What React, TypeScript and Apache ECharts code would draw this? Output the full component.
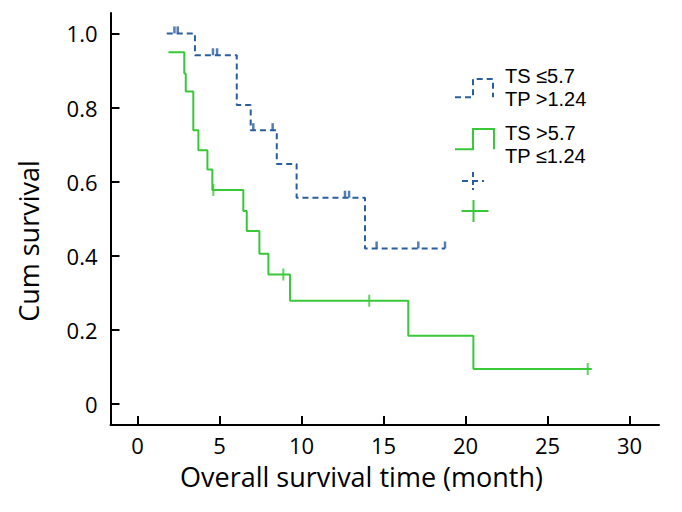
import React, { useEffect, useRef } from "react";
import * as echarts from "echarts";

const FONT = "Open Sans";
const LEGEND_FONT = "Liberation Sans";
const BLUE = "#2d5e9c";
const GREEN = "#38c838";

const xTicks = [0, 5, 10, 15, 20, 25, 30];
const yTicks = [0, 0.2, 0.4, 0.6, 0.8, 1.0];
const xTitle = "Overall survival time (month)";
const yTitle = "Cum survival";
const groupALabel = ["TS \u22645.7", "TP >1.24"];
const groupBLabel = ["TS >5.7", "TP \u22641.24"];

// Kaplan-Meier steps: [time (month), cumulative survival]
const groupASteps: [number, number][] = [
  [1.78, 1.0],
  [3.5, 0.941],
  [6.05, 0.807],
  [6.9, 0.739],
  [8.49, 0.648],
  [9.7, 0.557],
  [13.87, 0.42],
  [18.75, 0.42],
];
const groupACensored: [number, number][] = [
  [2.25, 1.0],
  [2.45, 1.0],
  [4.6, 0.941],
  [4.85, 0.941],
  [7.06, 0.739],
  [8.24, 0.739],
  [12.65, 0.557],
  [12.9, 0.557],
  [14.58, 0.42],
  [17.12, 0.42],
  [18.75, 0.42],
];

const groupBSteps: [number, number][] = [
  [1.88, 0.949],
  [2.85, 0.892],
  [2.94, 0.843],
  [3.4, 0.739],
  [3.71, 0.685],
  [4.26, 0.633],
  [4.56, 0.578],
  [6.45, 0.521],
  [6.66, 0.467],
  [7.43, 0.406],
  [7.98, 0.35],
  [9.3, 0.279],
  [16.51, 0.185],
  [20.48, 0.095],
  [27.7, 0.095],
];
const groupBCensored: [number, number][] = [
  [4.62, 0.578],
  [8.89, 0.35],
  [14.13, 0.279],
  [27.45, 0.095],
];

export default function App() {
  const ref = useRef<HTMLDivElement>(null);
  useEffect(() => {
    if (!ref.current) return;
    const chart = echarts.init(ref.current, null, { renderer: "svg" });
    const axisLineStyle = { color: "#000", width: 2 };
    const labelBase = { color: "#000", fontFamily: FONT, fontSize: 22 };
    const legendText = (text: string, x: number, y: number) => ({
      type: "text",
      x,
      y,
      style: {
        text,
        fill: "#000",
        font: `20px "${LEGEND_FONT}"`,
        textAlign: "left",
        textVerticalAlign: "middle",
      },
    });
    chart.setOption({
      animation: false,
      backgroundColor: "#fff",
      grid: { left: 110.5, right: 23, top: 13, bottom: 87, containLabel: false },
      xAxis: {
        type: "value",
        min: -1.65,
        max: 31.8,
        axisLine: { show: true, onZero: false, lineStyle: axisLineStyle },
        axisTick: { show: true, inside: true, length: 9, customValues: xTicks, lineStyle: axisLineStyle },
        axisLabel: { ...labelBase, customValues: xTicks, margin: 9 },
        splitLine: { show: false },
      },
      yAxis: {
        type: "value",
        min: -0.056,
        max: 1.055,
        axisLine: { show: true, onZero: false, lineStyle: axisLineStyle },
        axisTick: { show: true, inside: true, length: 9, customValues: yTicks, lineStyle: axisLineStyle },
        axisLabel: {
          ...labelBase,
          customValues: yTicks,
          margin: 13,
          formatter: (v: number) => (v === 0 ? "0" : v.toFixed(1)),
        },
        splitLine: { show: false },
      },
      series: [
        {
          type: "line",
          data: groupASteps,
          step: "end",
          symbol: "none",
          lineStyle: { color: BLUE, width: 2, type: [6, 4] },
        },
        {
          type: "line",
          data: groupBSteps,
          step: "end",
          symbol: "none",
          lineStyle: { color: GREEN, width: 2 },
        },
        {
          type: "scatter",
          data: groupACensored,
          symbol: "rect",
          symbolSize: [2.5, 7],
          symbolOffset: [0, -3.5],
          itemStyle: { color: BLUE },
        },
        {
          type: "scatter",
          data: groupBCensored,
          symbol: "rect",
          symbolSize: [2, 12],
          itemStyle: { color: GREEN },
        },
      ],
      graphic: [
        {
          type: "text",
          x: 361.5,
          y: 476,
          style: {
            text: xTitle,
            fill: "#000",
            font: `27px "${FONT}"`,
            textAlign: "center",
            textVerticalAlign: "middle",
          },
        },
        {
          type: "text",
          x: 28,
          y: 241,
          rotation: Math.PI / 2,
          style: {
            text: yTitle,
            fill: "#000",
            font: `27px "${FONT}"`,
            textAlign: "center",
            textVerticalAlign: "middle",
          },
        },
        {
          type: "polyline",
          shape: { points: [[455, 97.3], [473, 97.3], [473, 79], [493, 79], [493, 97.3]] },
          style: { stroke: BLUE, lineWidth: 2, fill: null, lineDash: [6, 4] },
        },
        {
          type: "polyline",
          shape: { points: [[455, 149.3], [473, 149.3], [473, 129], [494, 129], [494, 149.3]] },
          style: { stroke: GREEN, lineWidth: 2, fill: null },
        },
        legendText(groupALabel[0], 505, 76),
        legendText(groupALabel[1], 505, 99),
        legendText(groupBLabel[0], 505, 132.5),
        legendText(groupBLabel[1], 505, 155.5),
        {
          type: "line",
          shape: { x1: 462, y1: 181, x2: 484, y2: 181 },
          style: { stroke: BLUE, lineWidth: 2, lineDash: [6, 4] },
        },
        {
          type: "line",
          shape: { x1: 473, y1: 172, x2: 473, y2: 190 },
          style: { stroke: BLUE, lineWidth: 2, lineDash: [5, 3] },
        },
        {
          type: "line",
          shape: { x1: 461.5, y1: 211, x2: 488.5, y2: 211 },
          style: { stroke: GREEN, lineWidth: 2 },
        },
        {
          type: "line",
          shape: { x1: 473.5, y1: 200, x2: 473.5, y2: 222 },
          style: { stroke: GREEN, lineWidth: 2 },
        },
      ],
    });
    return () => chart.dispose();
  }, []);
  return (
    <div
      ref={ref}
      style={{ position: "fixed", left: 0, top: 0, width: 682, height: 512, background: "#fff" }}
    />
  );
}
